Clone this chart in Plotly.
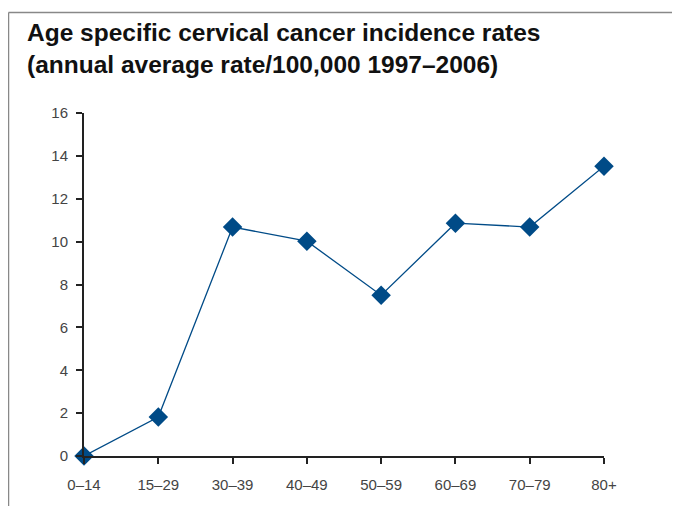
import plotly.graph_objects as go

age_groups = ["0–14", "15–29", "30–39", "40–49", "50–59", "60–69", "70–79", "80+"]
rates = [0.0, 1.82, 10.68, 10.02, 7.5, 10.86, 10.68, 13.52]
y_ticks = [0, 2, 4, 6, 8, 10, 12, 14, 16]

# page has an 8px body margin; work in figure coordinates
OFF = 8
W, H = 680, 506
L, T = 84 - OFF, 113 - OFF
pw, ph = 520, 343
R, B = W - L - pw, H - T - ph

def px_x(x):
    return (x - OFF - L) / pw

def px_y(y):
    return (T + ph - (y - OFF)) / ph

blue = "#004b87"

fig = go.Figure()
fig.add_trace(go.Scatter(
    x=list(range(len(age_groups))), y=rates, mode="lines+markers",
    line=dict(color=blue, width=1.3),
    marker=dict(symbol="diamond", size=15, color=blue),
    cliponaxis=False, showlegend=False,
))

fig.update_layout(
    width=W, height=H,
    margin=dict(l=L, r=R, t=T, b=B, autoexpand=False),
    paper_bgcolor="white", plot_bgcolor="white",
    xaxis=dict(
        range=[0, 7], tickmode="array", tickvals=list(range(len(age_groups))),
        ticktext=age_groups, showgrid=False, zeroline=False,
        showline=True, linecolor="#222", linewidth=2,
        ticks="outside", ticklen=6, tickwidth=2, tickcolor="#222",
        ticklabelstandoff=8,
        tickfont=dict(family="Liberation Sans, Arial, sans-serif", size=15, color="#444"),
    ),
    yaxis=dict(
        range=[0, 16], tickmode="array", tickvals=y_ticks,
        showgrid=False, zeroline=False,
        showline=True, linecolor="#222", linewidth=2,
        ticks="outside", ticklen=6, tickwidth=2, tickcolor="#222",
        ticklabelstandoff=5,
        tickfont=dict(family="Liberation Sans, Arial, sans-serif", size=15, color="#444"),
    ),
    shapes=[
        dict(type="line", xref="paper", yref="paper",
             x0=px_x(8.5), x1=px_x(W + 20), y0=px_y(12.5), y1=px_y(12.5),
             line=dict(color="#888", width=1.5)),
        dict(type="line", xref="paper", yref="paper",
             x0=px_x(8.5), x1=px_x(8.5), y0=px_y(12.5), y1=px_y(H + 20),
             line=dict(color="#888", width=1.5)),
    ],
    annotations=[
        dict(
            text="<b>Age specific cervical cancer incidence rates<br>(annual average rate/100,000 1997–2006)</b>",
            xref="paper", yref="paper", x=px_x(25), y=px_y(17),
            xanchor="left", yanchor="top", align="left", showarrow=False,
            font=dict(family="Liberation Sans, Arial, sans-serif", size=24.5, color="#111"),
        )
    ],
)

fig.write_html("out.html")
